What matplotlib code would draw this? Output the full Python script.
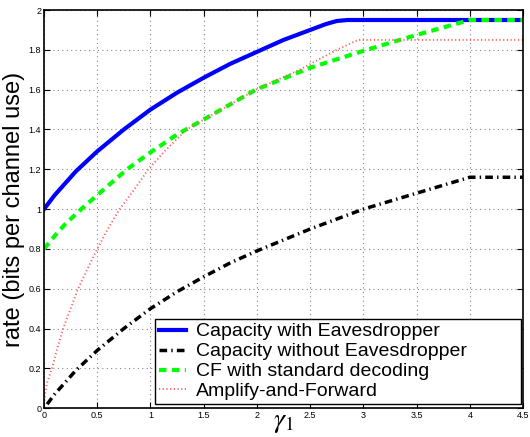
import matplotlib.pyplot as plt
import numpy as np

plt.rcParams['font.family'] = ['Liberation Sans', 'DejaVu Sans']
plt.rcParams['mathtext.fontset'] = 'stix'

# values
g_blue = [0, 0.1, 0.2, 0.3, 0.4, 0.5, 0.75, 1.0, 1.25, 1.5, 1.75, 2.0, 2.25, 2.5, 2.65, 2.75, 2.85, 4.5]
cap_eve = [1.0, 1.07, 1.13, 1.19, 1.24, 1.29, 1.40, 1.50, 1.585, 1.66, 1.73, 1.79, 1.85, 1.90, 1.93, 1.945, 1.95, 1.95]

g_black = [0.03, 0.1, 0.2, 0.3, 0.4, 0.5, 0.75, 1.0, 1.25, 1.5, 1.75, 2.0, 2.5, 3.0, 3.5, 4.0, 4.5]
cap_no_eve = [0.02, 0.07, 0.13, 0.19, 0.24, 0.29, 0.40, 0.50, 0.585, 0.66, 0.73, 0.79, 0.90, 1.00, 1.08, 1.16, 1.16]

g_green = [0, 0.1, 0.2, 0.35, 0.5, 0.78, 1.0, 1.25, 1.5, 1.99, 2.5, 3.03, 3.5, 4.0, 4.5]
cf_std = [0.80, 0.865, 0.925, 1.0, 1.07, 1.2, 1.285, 1.375, 1.45, 1.60, 1.71, 1.80, 1.875, 1.95, 1.95]

g_red = [0, 0.01, 0.03, 0.075, 0.12, 0.18, 0.25, 0.32, 0.4, 0.5, 0.6, 0.71, 0.85, 0.98, 1.15, 1.34, 1.6, 1.99, 2.4, 2.75, 2.95, 4.5]
af = [0, 0.07, 0.13, 0.2, 0.29, 0.4, 0.5, 0.6, 0.69, 0.8, 0.9, 1.0, 1.1, 1.2, 1.3, 1.4, 1.48, 1.6, 1.7, 1.8, 1.85, 1.85]

xticks = [0, 0.5, 1, 1.5, 2, 2.5, 3, 3.5, 4, 4.5]
yticks = [0, 0.2, 0.4, 0.6, 0.8, 1, 1.2, 1.4, 1.6, 1.8, 2]

fig = plt.figure(figsize=(5.30, 4.37), dpi=100)
ax = fig.add_axes([0.083, 0.066, 0.904, 0.911])

ax.plot(g_blue, cap_eve, color='#0000ff', lw=3.0, label='Capacity with Eavesdropper')
ax.plot(g_black, cap_no_eve, color='black', lw=2.5, linestyle=(0, (2.2, 1.2, 0.4, 1.2)),
        label='Capacity without Eavesdropper')
ax.plot(g_green, cf_std, color='#00ff00', lw=3.0, linestyle=(0, (1.8, 1.3)),
        label='CF with standard decoding')
ax.plot(g_red, af, color='#ff6060', lw=1.4, linestyle=(0, (0.6, 1.3)), label='Amplify-and-Forward')

ax.set_xlim(0, 4.5)
ax.set_ylim(0, 2)
ax.set_xticks(xticks)
ax.set_yticks(yticks)
ax.set_xticklabels([f'{t:g}' for t in xticks])
ax.set_yticklabels([f'{t:g}' for t in yticks])
ax.tick_params(direction='in', top=True, right=True, labelsize=6.5, length=4, pad=2)
ax.grid(True, color='#888888', linestyle=(0, (1, 3)), linewidth=0.8)
for s in ax.spines.values():
    s.set_linewidth(1.2)

ax.set_xlabel(r'$\gamma_1$', fontsize=20, labelpad=-8)
ax.set_ylabel('rate (bits per channel use)', fontsize=17)
ax.yaxis.set_label_coords(-0.04, 0.5)

leg = ax.legend(loc='lower left', bbox_to_anchor=(0.232, 0.01, 0.764, 0.2), mode='expand',
                fontsize=14, fancybox=False, edgecolor='black',
                framealpha=1, borderaxespad=0, handlelength=1.4, handletextpad=0.5,
                labelspacing=0.12, borderpad=0.2)
leg.get_frame().set_linewidth(1.0)

fig.savefig('out.png', dpi=100)
